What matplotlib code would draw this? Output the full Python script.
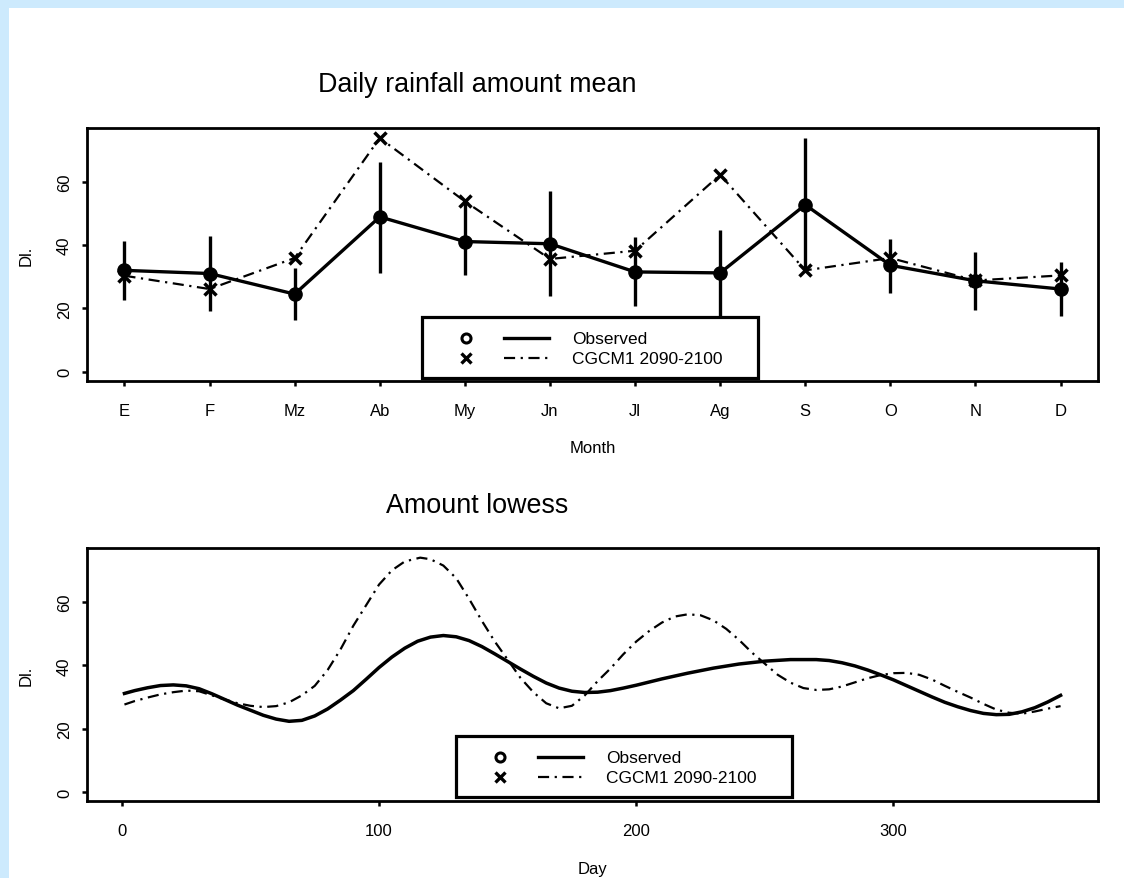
"""
Precipitação diária: média mensal (com barras de erro) e curva lowess.
"""

import matplotlib.pyplot as plt
from matplotlib.patches import Rectangle

plt.rcParams["font.family"] = ["Liberation Sans", "DejaVu Sans"]

# --- dados ------------------------------------------------------------------
months = ["E", "F", "Mz", "Ab", "My", "Jn", "Jl", "Ag", "S", "O", "N", "D"]
month_num = list(range(1, 13))
obs_mean = [32.0, 31.0, 24.5, 48.9, 41.1, 40.4, 31.5, 31.2, 52.7, 33.6, 28.7, 26.1]
obs_low = [22.7, 19.1, 16.4, 31.2, 30.4, 23.8, 20.6, 14.0, 31.5, 24.8, 19.4, 17.5]
obs_high = [41.2, 42.8, 32.8, 66.3, 53.3, 57.2, 42.4, 44.8, 73.8, 41.9, 37.8, 34.5]
cgcm_mean = [30.3, 26.1, 35.9, 73.8, 53.8, 35.6, 38.2, 62.2, 32.0, 35.9, 28.8, 30.4]

obs_days = [1, 5, 10, 15, 20, 25, 30, 35, 40, 45, 50, 55, 60, 65, 70, 75, 80,
            85, 90, 95, 100, 105, 110, 115, 120, 125, 130, 135, 140, 145, 150,
            155, 160, 165, 170, 175, 180, 185, 190, 195, 200, 210, 220, 230,
            240, 250, 260, 270, 275, 280, 285, 290, 295, 300, 305, 310, 315,
            320, 325, 330, 335, 340, 345, 350, 355, 360, 365]
obs_lowess = [31.1, 32.0, 32.9, 33.6, 33.8, 33.5, 32.6, 31.0, 29.2, 27.4, 25.8,
              24.2, 23.0, 22.3, 22.6, 24.0, 26.2, 29.0, 32.0, 35.6, 39.3, 42.6,
              45.4, 47.6, 48.9, 49.4, 49.0, 47.8, 45.9, 43.6, 41.2, 38.8, 36.5,
              34.4, 32.8, 31.8, 31.4, 31.5, 32.0, 32.8, 33.7, 35.7, 37.5, 39.1,
              40.4, 41.3, 41.8, 41.8, 41.5, 40.8, 39.8, 38.5, 37.0, 35.4, 33.6,
              31.8, 30.0, 28.3, 26.9, 25.7, 24.8, 24.4, 24.5, 25.3, 26.6, 28.4,
              30.5]

cgcm_days = [1, 5, 10, 15, 20, 25, 30, 35, 40, 45, 50, 55, 60, 65, 70, 75, 80,
             85, 90, 95, 100, 105, 110, 116, 120, 125, 130, 135, 140, 145, 150,
             155, 160, 165, 170, 175, 180, 185, 190, 195, 200, 205, 210, 215,
             220, 225, 230, 235, 240, 245, 250, 255, 260, 265, 270, 275, 280,
             285, 290, 295, 300, 305, 310, 315, 320, 325, 330, 335, 340, 345,
             350, 355, 360, 365]
cgcm_lowess = [27.6, 28.7, 29.8, 30.8, 31.5, 32.0, 31.8, 30.5, 29.2, 28.0, 27.2,
               26.8, 27.1, 28.3, 30.5, 33.5, 38.5, 45.0, 52.5, 59.0, 65.5, 70.0,
               72.8, 74.0, 73.5, 71.5, 67.5, 61.0, 54.0, 47.5, 41.8, 36.0, 31.5,
               28.0, 26.4, 27.2, 30.5, 35.0, 39.0, 43.5, 47.5, 50.8, 53.5, 55.4,
               56.1, 55.8, 54.2, 51.5, 48.0, 44.0, 40.5, 37.0, 34.5, 32.8, 32.2,
               32.4, 33.3, 34.6, 35.9, 36.9, 37.5, 37.6, 37.0, 35.5, 33.5, 31.6,
               29.8, 27.8, 26.0, 25.0, 24.7, 25.4, 26.3, 27.1]

series_names = ["Observed", "CGCM1 2090-2100"]

DASHDOT = (0, (5, 2.5, 1, 2.5))
BLUE = "#cdeafd"


def style_axes(ax):
    for s in ax.spines.values():
        s.set_linewidth(2.0)
    ax.tick_params(direction="out", length=3.8, width=1.8, labelsize=12)
    ax.tick_params(axis="x", pad=12)
    ax.tick_params(axis="y", pad=7, labelrotation=90)
    ax.set_yticks([0, 20, 40, 60])
    for lab in ax.get_yticklabels():
        lab.set_va("center")
    ax.set_ylim(-2.96, 76.96)
    ax.set_ylabel("Dl.", fontsize=12)
    ax.yaxis.set_label_coords(-0.053, 0.5)


def draw_key(ax, x0, y0):
    """Legenda no estilo do R: marcador, linha e texto em colunas."""
    px_w, px_h = 1011.0, 253.0  # tamanho do eixo em pixels

    def fx(px):
        return x0 + px / px_w

    def fy(px):
        return y0 + px / px_h

    ax.add_patch(Rectangle((x0, y0), 336 / px_w, 61 / px_h,
                           transform=ax.transAxes, facecolor="white",
                           edgecolor="black", lw=2.3, zorder=6))
    rows = [
        (39.6, dict(marker="o", mfc="white", mec="black", mew=2.2, ms=6.5),
         dict(ls="-", lw=2.4), series_names[0]),
        (19.6, dict(marker="x", color="black", mew=2.4, ms=7),
         dict(ls=DASHDOT, lw=1.6), series_names[1]),
    ]
    for dy, mk, ln, label in rows:
        ax.plot([fx(44)], [fy(dy)], transform=ax.transAxes, ls="none",
                zorder=7, **mk)
        ax.plot([fx(82), fx(127)], [fy(dy), fy(dy)], transform=ax.transAxes,
                color="black", zorder=7, **ln)
        ax.text(fx(150), fy(dy), label, transform=ax.transAxes, va="center",
                fontsize=12.5, zorder=7)


fig = plt.figure(figsize=(11.24, 8.79), dpi=100, facecolor=BLUE)
fig.add_artist(Rectangle((9 / 1124, 0), 1, 1 - 9 / 879,
                         transform=fig.transFigure, facecolor="white",
                         edgecolor="none", zorder=-10))

# --- painel superior: média mensal ------------------------------------------
ax1 = fig.add_axes([0.0774, 0.5654, 0.8995, 0.2878])
ax1.vlines(month_num, obs_low, obs_high, color="black", lw=2.4, zorder=2)
ax1.plot(month_num, obs_mean, color="black", lw=2.4, marker="o", ms=9.5,
         zorder=3)
ax1.plot(month_num, cgcm_mean, color="black", lw=1.6, ls=DASHDOT, marker="x",
         ms=8.5, mew=2.5, zorder=3)
draw_key(ax1, 0.3314, 0.0119)
style_axes(ax1)
ax1.set_xlim(0.56, 12.44)
ax1.set_xticks(month_num)
ax1.set_xticklabels(months)
ax1.set_xlabel("Month", fontsize=12)
ax1.xaxis.set_label_coords(0.5, -0.235)
ax1.text(0.386, 1.146, "Daily rainfall amount mean", transform=ax1.transAxes,
         ha="center", va="baseline", fontsize=19.4)

# --- painel inferior: lowess diário -----------------------------------------
ax2 = fig.add_axes([0.0774, 0.0873, 0.8995, 0.2878])
ax2.plot(obs_days, obs_lowess, color="black", lw=2.5, zorder=3)
ax2.plot(cgcm_days, cgcm_lowess, color="black", lw=1.6, ls=DASHDOT, zorder=3)
draw_key(ax2, 0.3650, 0.0182)
style_axes(ax2)
ax2.set_xlim(-13.56, 379.56)
ax2.set_xticks([0, 100, 200, 300])
ax2.set_xlabel("Day", fontsize=12)
ax2.xaxis.set_label_coords(0.5, -0.238)
ax2.text(0.386, 1.142, "Amount lowess", transform=ax2.transAxes,
         ha="center", va="baseline", fontsize=19.4)

fig.savefig("out.png", dpi=100, facecolor=BLUE)
